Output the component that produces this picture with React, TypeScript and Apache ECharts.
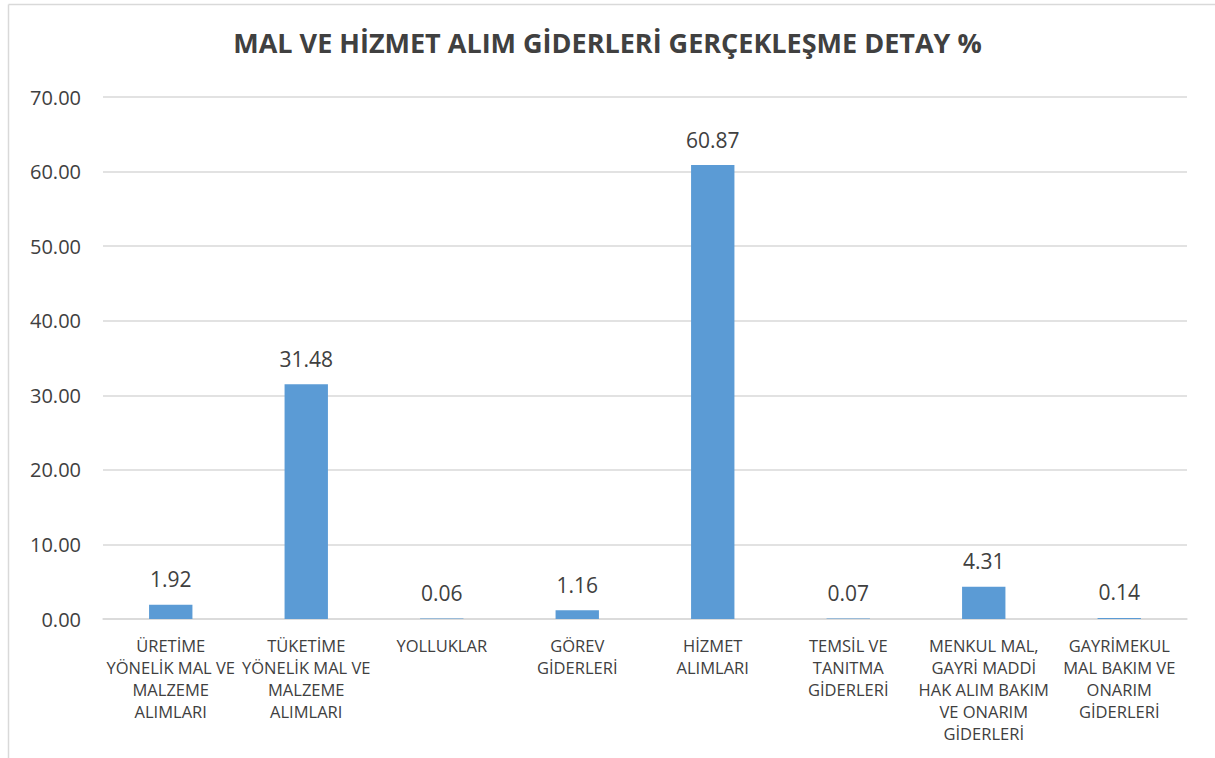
import React, { useEffect, useRef } from "react";
import * as echarts from "echarts";

const categories = [
  "ÜRETİME\nYÖNELİK MAL VE\nMALZEME\nALIMLARI",
  "TÜKETİME\nYÖNELİK MAL VE\nMALZEME\nALIMLARI",
  "YOLLUKLAR",
  "GÖREV\nGİDERLERİ",
  "HİZMET\nALIMLARI",
  "TEMSİL VE\nTANITMA\nGİDERLERİ",
  "MENKUL MAL,\nGAYRİ MADDİ\nHAK ALIM BAKIM\nVE ONARIM\nGİDERLERİ",
  "GAYRİMEKUL\nMAL BAKIM VE\nONARIM\nGİDERLERİ",
];
const values = [1.92, 31.48, 0.06, 1.16, 60.87, 0.07, 4.31, 0.14];
const titleText = "MAL VE HİZMET ALIM GİDERLERİ GERÇEKLEŞME DETAY %";

const FONT = "'Open Sans', 'Noto Sans', sans-serif";

export default function App() {
  const ref = useRef<HTMLDivElement>(null);
  useEffect(() => {
    document.body.style.margin = "0";
    const chart = echarts.init(ref.current!, null, { renderer: "svg" });
    chart.setOption({
      animation: false,
      backgroundColor: "#ffffff",
      title: {
        text: titleText,
        left: "center",
        top: 24,
        textStyle: {
          fontFamily: FONT,
          fontSize: 27,
          fontWeight: "bold",
          color: "#404040",
        },
      },
      graphic: [
        {
          type: "line",
          shape: { x1: 8.5, y1: 4.5, x2: 1215, y2: 4.5 },
          style: { stroke: "#d9d9d9", lineWidth: 1.5 },
        },
        {
          type: "line",
          shape: { x1: 8.5, y1: 4.5, x2: 8.5, y2: 758 },
          style: { stroke: "#d9d9d9", lineWidth: 1.5 },
        },
      ],
      grid: { left: 103, right: 28, top: 97, bottom: 139, containLabel: false },
      xAxis: {
        type: "category",
        data: categories,
        axisLine: { show: true, lineStyle: { color: "#d9d9d9", width: 1.5 } },
        axisTick: { show: false },
        axisLabel: {
          interval: 0,
          fontFamily: FONT,
          fontSize: 16.5,
          color: "#404040",
          lineHeight: 22,
          margin: 15,
        },
      },
      yAxis: {
        type: "value",
        min: 0,
        max: 70,
        interval: 10,
        axisLine: { show: false },
        axisTick: { show: false },
        splitLine: { lineStyle: { color: "#d9d9d9", width: 1.5 } },
        axisLabel: {
          formatter: (v: number) => v.toFixed(2),
          fontFamily: FONT,
          fontSize: 20,
          color: "#404040",
          margin: 22,
        },
      },
      series: [
        {
          type: "bar",
          data: values,
          barWidth: "32%",
          itemStyle: { color: "#5b9bd5" },
          label: {
            show: true,
            position: "top",
            distance: 15,
            formatter: (p: any) => p.value.toFixed(2),
            fontFamily: FONT,
            fontSize: 21,
            color: "#404040",
          },
        },
      ],
    });
    return () => chart.dispose();
  }, []);
  return <div ref={ref} style={{ width: 1215, height: 758 }} />;
}
